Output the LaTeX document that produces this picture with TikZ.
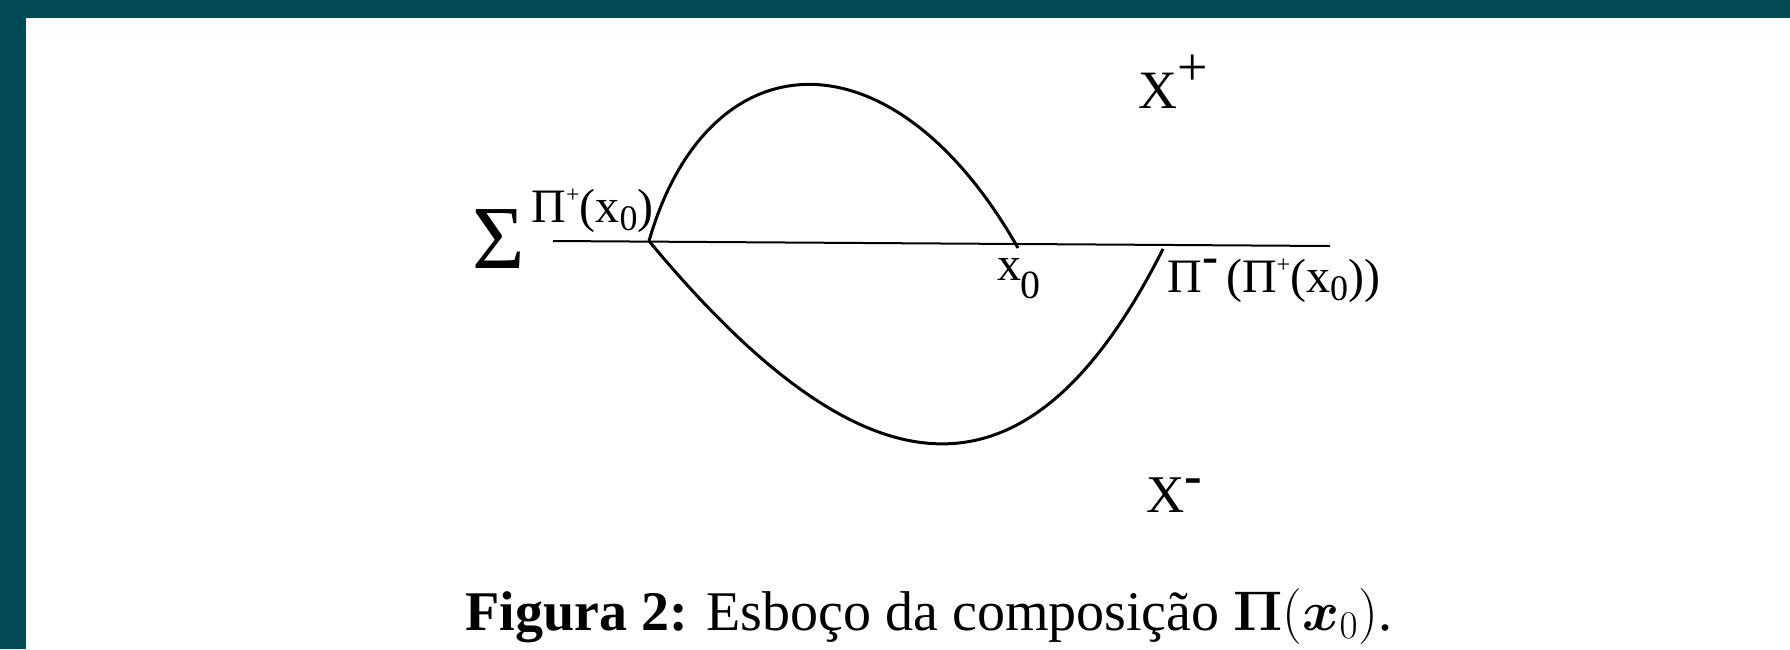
\RequirePackage{fix-cm}
\documentclass[tikz,border=0pt]{standalone}
\usepackage{amsmath}
\usepackage[no-math]{fontspec}
\setmainfont{Liberation Serif}
\usepackage{tikz}
\definecolor{frame}{RGB}{2,74,85}
\tikzstyle{lbl}=[inner sep=0pt,anchor=base west]
\tikzstyle{orbit}=[line width=1.5pt]
\tikzstyle{section}=[line width=1pt]

\begin{document}
\begin{tikzpicture}[x=0.5pt,y=-0.5pt]
    \useasboundingbox (0,0) rectangle (1790,649);
    \fill[white] (0,0) rectangle (1790,649);
    \fill[frame] (0,0) rectangle (1790,18);
    \fill[frame] (0,0) rectangle (26,649);

    \coordinate (sl) at (553,241);
    \coordinate (sr) at (1330,246);
    \coordinate (p) at (649,241);
    \coordinate (x0) at (1018,248);
    \coordinate (q) at (1163,249);

    \node (sigma) [lbl] at (472,268) {\fontsize{45}{45}\selectfont Σ};
    \node (pplus) [lbl] at (531,222) {\fontsize{24}{24}\selectfont Π\raisebox{10pt}{\fontsize{12}{12}\selectfont +}(x\raisebox{-4pt}{\fontsize{18}{18}\selectfont 0})};
    \node (xzero) [lbl] at (997,280) {\fontsize{24}{24}\selectfont x\kern-0.5pt\raisebox{-9pt}{\fontsize{20}{20}\selectfont 0}};
    \node (pminus) [lbl] at (1167,292) {\fontsize{24}{24}\selectfont Π\raisebox{10pt}{\textbf{-}}\,(Π\raisebox{10pt}{\fontsize{12}{12}\selectfont +}(x\raisebox{-4pt}{\fontsize{18}{18}\selectfont 0}))};
    \node (xplus) [lbl] at (1138,108) {\fontsize{27}{27}\selectfont X\raisebox{11.5pt}{+}};
    \node (xminus) [lbl] at (1146,512) {\fontsize{26.5}{26.5}\selectfont X\raisebox{9.5pt}{\textbf{-}}};
    \node (caption) [lbl] at (465,630) {\fontsize{28}{34}\selectfont \textbf{Figura 2:} Esboço da composição $\boldsymbol{\Pi}(\boldsymbol{x}_0)$.};

    \draw [section] (sl) -- (sr);
    \draw [orbit] (p) .. controls (708,36) and (892,26) .. (x0);
    \draw [orbit] (p) .. controls (865,501) and (1027,519) .. (q);
\end{tikzpicture}
\end{document}
